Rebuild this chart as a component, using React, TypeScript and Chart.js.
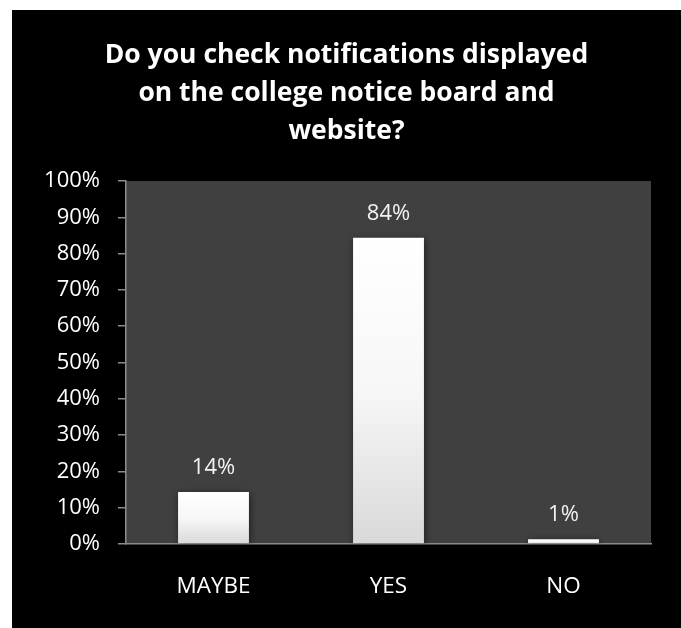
import React, { useEffect, useRef } from "react";
import { Chart, registerables } from "chart.js";

Chart.register(...registerables);

const categories = ["MAYBE", "YES", "NO"];
const values = [14.3, 84.4, 1.3];
const tickValues = [0, 10, 20, 30, 40, 50, 60, 70, 80, 90, 100];
const titleLines = [
  "Do you check notifications displayed",
  "on the college notice board and",
  "website?",
];

const FONT = "'Open Sans', Lato, sans-serif";

const plotBg = {
  id: "plotBg",
  beforeDraw(chart: any) {
    const { ctx, chartArea } = chart;
    if (!chartArea) return;
    ctx.save();
    ctx.fillStyle = "#404040";
    ctx.fillRect(chartArea.left, chartArea.top, chartArea.right - chartArea.left, chartArea.bottom - chartArea.top);
    ctx.restore();
  },
};

const barShadow = {
  id: "barShadow",
  beforeDatasetsDraw(chart: any) {
    const ctx = chart.ctx;
    ctx.save();
    ctx.shadowColor = "rgba(0,0,0,0.55)";
    ctx.shadowBlur = 7;
    ctx.shadowOffsetX = 1;
    ctx.shadowOffsetY = 1;
  },
  afterDatasetsDraw(chart: any) {
    chart.ctx.restore();
  },
};

const dataLabels = {
  id: "dataLabels",
  afterDatasetsDraw(chart: any) {
    const ctx = chart.ctx;
    const meta = chart.getDatasetMeta(0);
    ctx.save();
    ctx.font = `22px ${FONT}`;
    ctx.fillStyle = "#f2f2f2";
    ctx.textAlign = "center";
    ctx.textBaseline = "alphabetic";
    meta.data.forEach((bar: any, i: number) => {
      const v = chart.data.datasets[0].data[i] as number;
      ctx.fillText(`${Math.round(v)}%`, bar.x, bar.y - 18);
    });
    ctx.restore();
  },
};

export default function App() {
  const ref = useRef<HTMLCanvasElement>(null);
  useEffect(() => {
    if (!ref.current) return;
    const chart = new Chart(ref.current, {
      type: "bar",
      data: {
        labels: categories,
        datasets: [
          {
            data: values,
            backgroundColor: (c: any) => {
              const ch = c.chart;
              const y = ch.scales && ch.scales.y;
              if (!y || c.raw === undefined) return "#eeeeee";
              const top = y.getPixelForValue(c.raw);
              const bottom = y.getPixelForValue(0);
              if (!isFinite(top) || !isFinite(bottom) || top === bottom) return "#eeeeee";
              const g = ch.ctx.createLinearGradient(0, top, 0, bottom);
              g.addColorStop(0, "#ffffff");
              g.addColorStop(0.5, "#f7f7f7");
              g.addColorStop(1, "#d9d9d9");
              return g;
            },
            borderWidth: 0,
            barPercentage: 0.405,
            categoryPercentage: 1,
          },
        ],
      },
      options: {
        responsive: false,
        animation: false,
        maintainAspectRatio: false,
        layout: { padding: { left: 30, right: 30, top: 0, bottom: 0 } },
        plugins: {
          legend: { display: false },
          tooltip: { enabled: false },
          title: {
            display: true,
            text: titleLines,
            color: "#ffffff",
            font: { family: FONT, size: 26.5, weight: "bold", lineHeight: 38 / 26.5 },
            padding: { top: 26, bottom: 31 },
          },
        },
        scales: {
          x: {
            grid: { display: false, drawTicks: false },
            border: { display: true, color: "#8c8c8c", width: 1.5 },
            ticks: {
              color: "#ffffff",
              font: { family: FONT, size: 22.5 },
              padding: 29,
            },
            afterFit: (s: any) => {
              s.height = 84;
            },
          },
          y: {
            min: 0,
            max: 100,
            afterBuildTicks: (s: any) => {
              s.ticks = tickValues.map((v) => ({ value: v }));
            },
            grid: {
              display: true,
              drawOnChartArea: false,
              drawTicks: true,
              tickLength: 8,
              color: "#8c8c8c",
              lineWidth: 1.5,
            },
            border: { display: true, color: "#8c8c8c", width: 1.5 },
            ticks: {
              color: "#ffffff",
              font: { family: FONT, size: 22 },
              padding: 18,
              callback: (v: any) => `${v}%`,
            },
            afterFit: (s: any) => {
              s.width = 84;
            },
          },
        },
      },
      plugins: [plotBg, barShadow, dataLabels],
    });
    return () => chart.destroy();
  }, []);

  return (
    <div
      style={{
        position: "fixed",
        left: 12,
        top: 10,
        width: 669,
        height: 618,
        background: "#000000",
      }}
    >
      <canvas ref={ref} width={669} height={618} style={{ display: "block", width: 669, height: 618 }} />
    </div>
  );
}
